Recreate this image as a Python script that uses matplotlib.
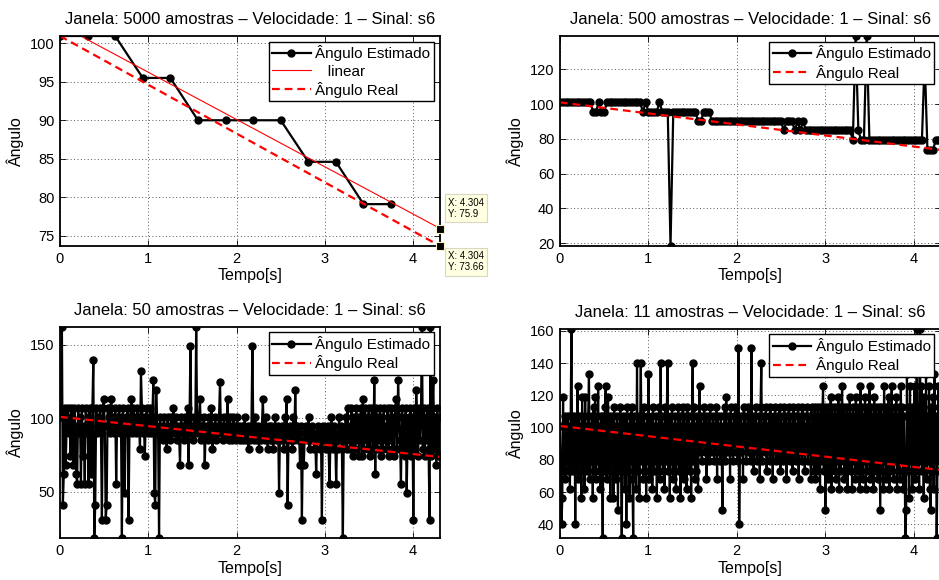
import numpy as np
import matplotlib
matplotlib.use('Agg')
import matplotlib.pyplot as plt

plt.rcParams['font.family'] = ['Liberation Sans', 'DejaVu Sans']

# ---------------- data ----------------
t_end = 4.304
real_t = [0.0, 4.304]
real_ang = [100.95, 73.66]

# window 5000 samples
t5000 = [0.0, 0.3125, 0.625, 0.9375, 1.25, 1.5625, 1.875, 2.1875, 2.5, 2.8125, 3.125, 3.4375, 3.75]
ang5000 = [100.95, 100.95, 100.95, 95.5, 95.5, 90.0, 90.0, 90.0, 90.0, 84.6, 84.6, 79.1, 79.1]
tip_x = 4.304
tip_fit = 75.9
tip_real = 73.66

# window 500 samples (step 0.03125 s)
dt500 = 0.03125
ang500 = [
    101, 101, 101, 101, 101, 101, 101, 101, 101, 101,
    101, 101, 95.5, 95.5, 101, 95.5, 95.5, 101, 101, 101,
    101, 101, 101, 101, 101, 101, 101, 101, 101, 101,
    95.5, 101, 95.5, 95.5, 95.5, 95.5, 101, 95.5, 95.5, 95.5,
    18.4, 95.5, 95.5, 95.5, 95.5, 95.5, 95.5, 95.5, 95.5, 95.5,
    90.2, 90.2, 95.5, 95.5, 95.5, 90.2, 90.2, 90.2, 90.2, 90.2,
    90.2, 90.2, 90.2, 90.2, 90.2, 90.2, 90.2, 90.2, 90.2, 90.2,
    90.2, 90.2, 90.2, 90.2, 90.2, 90.2, 90.2, 90.2, 90.2, 90.2,
    90.2, 84.8, 90.2, 90.2, 90.2, 84.8, 90.2, 84.8, 90.2, 84.8,
    84.8, 84.8, 84.8, 84.8, 84.8, 84.8, 84.8, 84.8, 84.8, 84.8,
    84.8, 84.8, 84.8, 84.8, 84.8, 84.8, 79.2, 139.1, 84.8, 79.2,
    79.2, 139.1, 79.2, 79.2, 79.2, 79.2, 79.2, 79.2, 79.2, 79.2,
    79.2, 79.2, 79.2, 79.2, 79.2, 79.2, 79.2, 79.2, 79.2, 79.2,
    79.2, 79.2, 126, 73.6, 73.6, 73.6, 79.2, 79.2,
]

# window 50 samples
ang50 = [
    101, 107, 162.5, 41, 62, 107, 68, 95, 107, 90,
    101, 74, 107, 90, 68, 107, 95, 62, 55, 107,
    90, 101, 55, 107, 74, 95, 55, 107, 90, 101,
    55, 107, 95, 62, 107, 140, 18.2, 41, 107, 90,
    101, 95, 107, 90, 31, 107, 113, 95, 31, 41,
    107, 101, 90, 107, 113, 95, 101, 90, 107, 55,
    101, 95, 107, 90, 101, 18.2, 107, 95, 49, 101,
    90, 107, 31, 95, 101, 113, 90, 107, 95, 101,
    90, 107, 101, 95, 79, 132, 107, 90, 101, 74,
    95, 107, 90, 101, 95, 107, 90, 101, 126, 49,
    41, 119, 95, 90, 18.2, 101, 90, 95, 85, 101,
    90, 95, 79, 101, 90, 95, 85, 101, 90, 107,
    95, 90, 101, 85, 95, 90, 68, 101, 95, 90,
    85, 101, 95, 90, 107, 68, 101, 149, 90, 95,
    85, 101, 90, 162.5, 95, 90, 101, 113, 85, 95,
    90, 101, 68, 95, 90, 85, 101, 95, 90, 107,
    79, 95, 90, 101, 85, 95, 90, 101, 125, 90,
    95, 85, 101, 90, 95, 90, 113, 85, 101, 95,
    90, 85, 101, 95, 90, 85, 101, 90, 95, 85,
    90, 95, 85, 90, 101, 85, 90, 95, 79, 90,
    85, 95, 149, 90, 85, 101, 90, 85, 95, 79,
    90, 85, 95, 113, 90, 85, 101, 90, 79, 95,
    85, 90, 95, 85, 79, 90, 101, 85, 90, 95,
    49, 90, 85, 95, 90, 79, 101, 85, 113, 41,
    90, 95, 85, 90, 79, 101, 85, 119, 90, 95,
    85, 90, 68, 95, 31, 85, 68, 90, 95, 85,
    90, 101, 79, 90, 85, 95, 90, 79, 85, 62,
    90, 95, 85, 79, 90, 31, 95, 85, 90, 79,
    90, 95, 79, 55, 85, 101, 90, 79, 95, 85,
    55, 90, 79, 101, 85, 95, 79, 18.2, 90, 85,
    101, 79, 107, 85, 95, 79, 107, 85, 74, 101,
    79, 107, 85, 101, 74, 95, 107, 74, 113, 79,
    107, 85, 101, 79, 107, 90, 74, 101, 107, 79,
    126, 62, 107, 79, 101, 85, 107, 74, 101, 79,
    107, 85, 95, 79, 107, 74, 101, 85, 107, 79,
    101, 74, 107, 113, 79, 126, 101, 85, 55, 107,
    79, 101, 74, 107, 49, 85, 101, 79, 107, 74,
    101, 31, 107, 79, 119, 101, 74, 107, 85, 101,
    162.5, 79, 107, 74, 101, 85, 107, 79, 31, 162.5,
    74, 107, 126, 79, 101, 68, 107, 74, 101, 74,
]

# window 11 samples
ang11 = [
    101, 73, 40, 56, 119, 73, 107, 68, 101, 79,
    107, 73, 101, 62, 107, 161.4, 73, 101, 79, 107,
    40, 101, 73, 126, 68, 107, 79, 101, 56, 119,
    73, 107, 62, 119, 79, 101, 73, 107, 133, 68,
    101, 79, 107, 56, 113, 73, 119, 68, 107, 79,
    126, 73, 101, 62, 107, 79, 31.3, 107, 73, 113,
    126, 68, 101, 119, 73, 107, 56, 101, 79, 107,
    56, 113, 73, 101, 68, 107, 49, 101, 73, 113,
    79, 31.3, 107, 73, 101, 62, 107, 40, 113, 73,
    101, 56, 107, 79, 113, 68, 31.3, 107, 73, 101,
    62, 140, 73, 107, 56, 101, 140, 79, 107, 68,
    113, 73, 101, 56, 107, 79, 133, 68, 101, 73,
    107, 62, 113, 73, 101, 79, 107, 56, 101, 73,
    113, 68, 140, 79, 107, 73, 101, 62, 113, 79,
    107, 140, 73, 101, 56, 107, 79, 113, 68, 101,
    73, 107, 62, 101, 79, 113, 73, 107, 56, 101,
    79, 113, 68, 107, 73, 101, 62, 113, 79, 107,
    73, 101, 56, 107, 140, 79, 113, 68, 101, 73,
    107, 62, 101, 126, 85, 107, 79, 101, 90, 113,
    85, 107, 68, 101, 90, 107, 79, 113, 85, 101,
    90, 107, 79, 101, 85, 113, 68, 107, 90, 101,
    79, 107, 85, 49, 101, 90, 113, 79, 119, 85,
    101, 90, 107, 68, 113, 85, 101, 79, 107, 90,
    113, 85, 101, 79, 149, 40, 90, 107, 85, 101,
    68, 113, 90, 107, 79, 101, 85, 113, 90, 107,
    79, 149, 85, 101, 73, 107, 90, 113, 79, 101,
    85, 107, 68, 113, 140, 79, 101, 90, 107, 85,
    113, 73, 101, 90, 107, 79, 113, 85, 101, 68,
    107, 90, 113, 79, 107, 80, 101, 85, 113, 73,
    107, 90, 101, 79, 113, 85, 107, 68, 101, 90,
    113, 79, 107, 85, 101, 73, 113, 90, 107, 79,
    101, 85, 113, 68, 107, 90, 101, 79, 113, 85,
    107, 73, 101, 90, 113, 79, 107, 85, 101, 68,
    113, 79, 107, 73, 113, 68, 107, 79, 113, 73,
    107, 62, 113, 79, 107, 126, 73, 113, 49, 107,
    79, 113, 68, 107, 73, 119, 62, 113, 79, 107,
    73, 113, 68, 107, 79, 119, 62, 113, 73, 107,
    126, 79, 113, 68, 107, 73, 113, 62, 107, 79,
    119, 73, 107, 62, 113, 79, 107, 68, 119, 73,
    113, 79, 107, 62, 126, 73, 113, 68, 107, 79,
    119, 62, 113, 73, 107, 79, 126, 68, 113, 73,
    107, 62, 119, 79, 113, 73, 107, 68, 113, 79,
    49, 113, 73, 107, 62, 126, 79, 113, 68, 107,
    73, 119, 62, 113, 79, 126, 73, 107, 68, 113,
    79, 119, 62, 107, 73, 113, 68, 126, 79, 113,
    62, 107, 73, 31.3, 49, 133, 73, 113, 56, 126,
    79, 113, 62, 107, 73, 126, 68, 113, 161.4, 73,
    107, 62, 161.4, 79, 126, 73, 113, 56, 119, 73,
    133, 68, 107, 79, 126, 62, 49, 113, 73, 119,
    62, 133, 79, 107, 31.3, 73, 126, 113, 79, 73,
]

x_ticks = [0, 1, 2, 3, 4]
titles = ['Janela: 5000 amostras \u2013 Velocidade: 1 \u2013 Sinal: s6',
          'Janela: 500 amostras \u2013 Velocidade: 1 \u2013 Sinal: s6',
          'Janela: 50 amostras \u2013 Velocidade: 1 \u2013 Sinal: s6',
          'Janela: 11 amostras \u2013 Velocidade: 1 \u2013 Sinal: s6']
lbl_est = '\u00c2ngulo Estimado'
lbl_real = '\u00c2ngulo Real'
lbl_lin = '   linear'

# ---------------- figure ----------------
W, H = 939, 580
fig = plt.figure(figsize=(W / 100, H / 100), dpi=100)


def add_axes(l, t, r, b):
    return fig.add_axes([l / W, 1 - b / H, (r - l) / W, (b - t) / H])


ax1 = add_axes(60, 36, 440, 246)
ax2 = add_axes(560, 36, 940.5, 246)
ax3 = add_axes(60, 326.5, 440, 538.3)
ax4 = add_axes(560, 328.5, 940.5, 538.3)

est_kw = dict(color='black', linewidth=1.6, marker='o', markersize=5, label=lbl_est)
real_kw = dict(color='red', linestyle=(0, (3.5, 2.2)), linewidth=1.6, label=lbl_real)


def style(ax, title, yticks, ylim):
    ax.set_xlim(0, t_end)
    ax.set_ylim(*ylim)
    ax.set_xticks(x_ticks)
    ax.set_yticks(yticks)
    ax.grid(True, linestyle=(0, (1, 2.5)), color='0.35', linewidth=0.7)
    ax.set_axisbelow(True)
    ax.tick_params(direction='in', length=4, width=0.6, top=True, right=True,
                   labelsize=10.5, pad=4)
    for s in ax.spines.values():
        s.set_linewidth(1.3)
    ax.set_title(title, fontsize=12, pad=8.5)
    ax.set_xlabel('Tempo[s]', fontsize=11.5, labelpad=2)
    ax.set_ylabel('\u00c2ngulo', fontsize=11.5, labelpad=4)


def legend(ax):
    leg = ax.legend(loc='upper right', bbox_to_anchor=(0.984, 0.973), borderaxespad=0,
                    fontsize=11, frameon=True, fancybox=False, framealpha=1,
                    edgecolor='black', handlelength=2.5, handletextpad=0.3,
                    labelspacing=0.2, borderpad=0.25, numpoints=1)
    leg.get_frame().set_linewidth(1.0)
    leg.set_zorder(10)


# panel 1
ax1.plot(t5000, ang5000, **est_kw)
coef = np.polyfit(t5000, ang5000, 1)
tfit = np.array([0.0, t_end])
ax1.plot(tfit, np.polyval(coef, tfit), color='red', linewidth=0.8, label=lbl_lin)
ax1.plot(real_t, real_ang, **real_kw)
style(ax1, titles[0], [75, 80, 85, 90, 95, 100], (73.66, 100.95))
legend(ax1)
for yv, off, va in [(tip_fit, (8, 10), 'bottom'), (tip_real, (8, -5), 'top')]:
    ax1.plot([tip_x], [yv], marker='s', markersize=6, color='black',
             markeredgecolor='#f4f0c8', markeredgewidth=0.8, clip_on=False, zorder=12)
    ax1.annotate('X: %.3f\nY: %s' % (tip_x, ('%.2f' % yv).rstrip('0').rstrip('.')),
                 xy=(tip_x, yv), xytext=off, textcoords='offset pixels',
                 ha='left', va=va, fontsize=7, linespacing=1.15, annotation_clip=False,
                 bbox=dict(boxstyle='square,pad=0.35', facecolor='#ffffe1',
                           edgecolor='#d8d8c0', linewidth=0.8), zorder=11)

# panel 2
t500 = np.arange(len(ang500)) * dt500
ax2.plot(t500, ang500, **est_kw)
ax2.plot(real_t, real_ang, **real_kw)
style(ax2, titles[1], [20, 40, 60, 80, 100, 120], (min(ang500), max(ang500)))
legend(ax2)

# panel 3
t50 = np.linspace(0, t_end, len(ang50))
ax3.plot(t50, ang50, **est_kw)
ax3.plot(real_t, real_ang, **real_kw)
style(ax3, titles[2], [50, 100, 150], (min(ang50), max(ang50)))
legend(ax3)

# panel 4
t11 = np.linspace(0, t_end, len(ang11))
ax4.plot(t11, ang11, **est_kw)
ax4.plot(real_t, real_ang, **real_kw)
style(ax4, titles[3], [40, 60, 80, 100, 120, 140, 160], (min(ang11), max(ang11)))
legend(ax4)

fig.savefig('out.png', dpi=100)
